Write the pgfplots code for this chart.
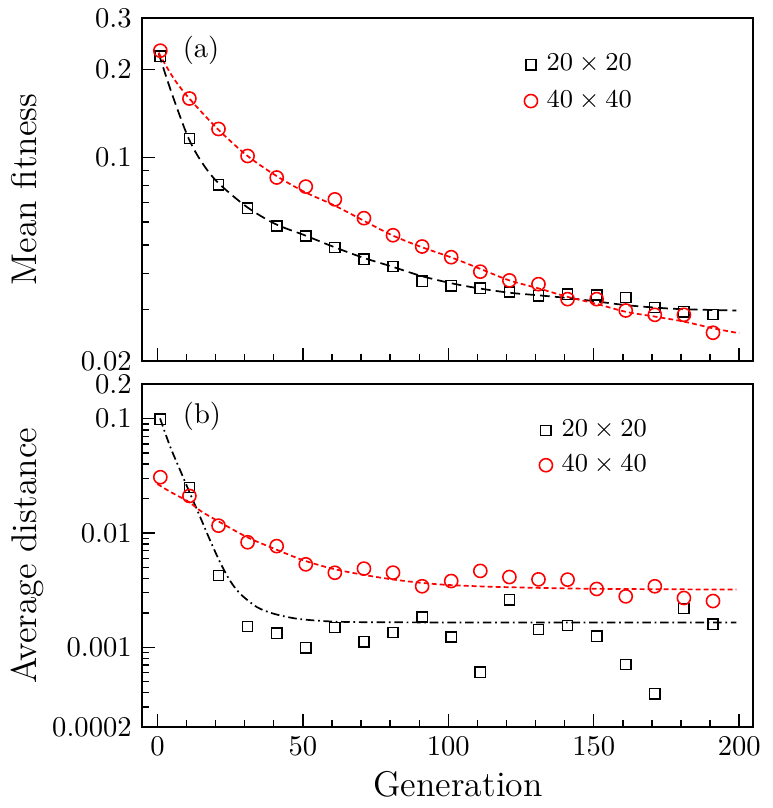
\documentclass[border=0pt]{standalone}
\usepackage{pgfplots}
\usepackage{pgfplotstable}
\pgfplotsset{compat=1.18}

\pgfplotstableread{
x y
1 0.222
11 0.116
21 0.0804
31 0.0668
41 0.0581
51 0.0537
61 0.0490
71 0.0447
81 0.0422
91 0.0376
101 0.0362
111 0.0355
121 0.0345
131 0.0335
141 0.0339
151 0.0337
161 0.0330
171 0.0305
181 0.0295
191 0.0289
}\topsq
\pgfplotstableread{
x y
1 0.232
11 0.159
21 0.125
31 0.101
41 0.0852
51 0.0793
61 0.0717
71 0.0618
81 0.0540
91 0.0494
101 0.0454
111 0.0405
121 0.0378
131 0.0367
141 0.0326
151 0.0326
161 0.0298
171 0.0288
181 0.0288
191 0.0250
}\topci
\pgfplotstableread{
x y
0.4 0.2275
4.9 0.166
10.4 0.118
14.7 0.098
20.4 0.0826
30.5 0.0678
40.4 0.0591
50.4 0.0541
60.5 0.0493
70.5 0.0453
80.5 0.0422
90.5 0.0392
100.8 0.0370
110.5 0.0355
121 0.0343
131 0.0336
141 0.0329
151 0.0320
161 0.0311
171 0.0305
181 0.0301
199 0.0298
}\topsqfit
\pgfplotstableread{
x y
0.4 0.2285
5.2 0.189
10.4 0.1614
20.4 0.1259
30.5 0.1019
40.4 0.0869
50.4 0.0762
60.5 0.0686
70.5 0.0609
80.5 0.0541
90.5 0.0493
100.8 0.0454
110.5 0.0416
121 0.0378
131 0.0355
141 0.0332
151 0.0314
161 0.0295
171 0.0284
181 0.0273
191 0.0259
200 0.0249
}\topcifit
\pgfplotstableread{
x y
1 0.099
11 0.0250
21 0.00426
31 0.00152
41 0.00133
51 0.00099
61 0.00149
71 0.00112
81 0.00135
91 0.00184
101 0.00123
111 0.000606
121 0.00261
131 0.00143
141 0.00155
151 0.00125
161 0.000708
171 0.000392
181 0.00219
191 0.00159
}\botsq
\pgfplotstableread{
x y
1 0.0308
11 0.0211
21 0.0116
31 0.00830
41 0.00768
51 0.00532
61 0.00449
71 0.00488
81 0.00450
91 0.00342
101 0.00380
111 0.00466
121 0.00412
131 0.00393
141 0.00391
151 0.00324
161 0.00279
171 0.00342
181 0.00270
191 0.00254
}\botci
\pgfplotstableread{
x y
0.9 0.1007
4.4 0.0568
7.8 0.0355
11.2 0.0222
14.7 0.0138
18.1 0.00864
21.5 0.00557
24.9 0.00385
28.4 0.00295
34.2 0.00225
39.9 0.00197
47.9 0.00178
58.2 0.00169
70 0.00166
100 0.00165
150 0.00165
199 0.00165
}\botsqfit
\pgfplotstableread{
x y
0 0.0268
5 0.0225
10.7 0.0188
15 0.0155
20.4 0.0129
30.7 0.00923
40.4 0.00725
50.2 0.00577
60.5 0.00485
71 0.00430
81 0.00392
91 0.00366
101 0.00350
118 0.00337
150 0.00325
199 0.00320
}\botcifit

\pgfplotsset{
  panelaxis/.style={
    scale only axis, width=214pt, height=120pt,
    xmin=-5.4, xmax=204.8,
    axis line style={line width=0.6pt},
    tick align=inside, xtick pos=bottom, ytick pos=left,
    xtick={0,50,100,150,200}, minor x tick num=4,
    major tick length=4.5pt, minor tick length=2.6pt,
    tick style={line width=0.5pt, black},
    tick label style={font=\fontsize{10}{12}\selectfont},
    yticklabel style={inner ysep=0.5pt},
    label style={font=\fontsize{12.5}{15}\selectfont},
    ylabel style={at={(axis description cs:-0.172,0.5)}, anchor=base},
    legend style={draw=none, fill=none, inner sep=0pt, row sep=2.4pt,
      nodes={inner sep=1.5pt}, font=\fontsize{9}{11}\selectfont,
      /tikz/every odd column/.append style={column sep=1.4pt}},
    legend cell align=left,
    legend image code/.code={\path[draw=none, fill=none] (-2.6pt,-2.6pt) rectangle (2.6pt,2.6pt);
      \draw[##1] plot coordinates {(0cm,0cm)};},
  },
  sqm/.style={only marks, mark=square, mark size=1.8pt, black,
    mark options={line width=0.5pt, fill=none}},
  cim/.style={only marks, mark=o, mark size=2.3pt, red,
    mark options={line width=0.55pt, fill=none}},
}

\begin{document}
\begin{tikzpicture}
\useasboundingbox (-49.6pt,-156.45pt) rectangle (220.6pt,126.35pt);
\begin{semilogyaxis}[panelaxis, at={(0pt,0pt)}, anchor=south west,
  ymin=0.02, ymax=0.3,
  ytick={0.02,0.1,0.2,0.3}, yticklabels={0.02,0.1,0.2,0.3},
  minor ytick={0.03,0.04,0.05,0.06,0.07,0.08,0.09},
  xticklabels={},
  ylabel={Mean fitness},
  legend style={at={(axis description cs:0.6235,0.811)}, anchor=west}]
\addplot[black, line width=0.6pt, dash pattern=on 3.4pt off 1.8pt, smooth, forget plot] table {\topsqfit};
\addplot[red, line width=0.6pt, dash pattern=on 1.7pt off 1.1pt, smooth, forget plot] table {\topcifit};
\addplot[sqm] table {\topsq};
\addplot[cim] table {\topci};
\legend{$20\times20$, $40\times40$}
\node[font=\fontsize{10}{12}\selectfont] at (axis description cs:0.097,0.905) {(a)};
\end{semilogyaxis}
\begin{semilogyaxis}[panelaxis, at={(0pt,-8.16pt)}, anchor=north west,
  ymin=0.0002, ymax=0.2,
  ytick={0.0002,0.001,0.01,0.1,0.2}, yticklabels={0.0002,0.001,0.01,0.1,0.2},
  minor ytick={0.0003,0.0004,0.0005,0.0006,0.0007,0.0008,0.0009,
    0.002,0.003,0.004,0.005,0.006,0.007,0.008,0.009,
    0.02,0.03,0.04,0.05,0.06,0.07,0.08,0.09},
  xlabel={Generation},
  xlabel style={at={(axis description cs:0.5174,-0.202)}, anchor=base},
  ylabel={Average distance},
  legend style={at={(axis description cs:0.648,0.8145)}, anchor=west, row sep=1.8pt}]
\addplot[black, line width=0.6pt, dash pattern=on 3pt off 1.3pt on 0.6pt off 1.3pt, smooth, forget plot] table {\botsqfit};
\addplot[red, line width=0.6pt, dash pattern=on 1.7pt off 1.1pt, smooth, forget plot] table {\botcifit};
\addplot[sqm] table {\botsq};
\addplot[cim] table {\botci};
\legend{$20\times20$, $40\times40$}
\node[font=\fontsize{10}{12}\selectfont] at (axis description cs:0.0986,0.907) {(b)};
\end{semilogyaxis}
\end{tikzpicture}
\end{document}
